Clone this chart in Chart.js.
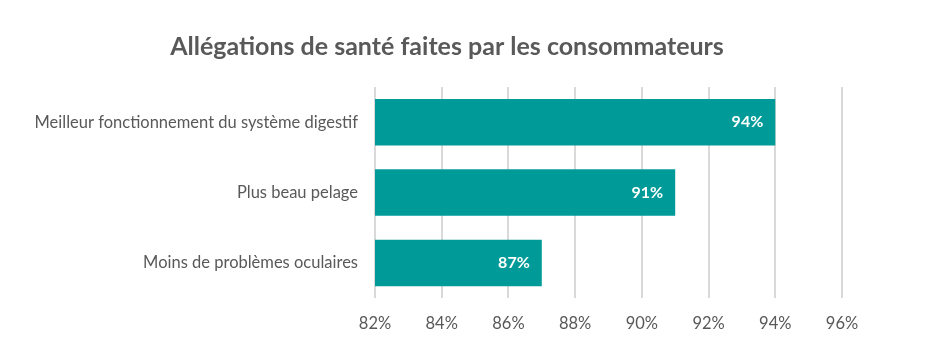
<!DOCTYPE html>
<html>
<head>
<meta charset="utf-8">
<script src="https://cdn.jsdelivr.net/npm/chart.js@4/dist/chart.umd.min.js"></script>
<style>
  body { margin: 0; background: #fff; }
  #wrap { width: 926px; height: 354px; }
</style>
</head>
<body>
<div id="wrap"><canvas id="graph" width="926" height="354"></canvas></div>
<script>
const categories = ['Meilleur fonctionnement du système digestif', 'Plus beau pelage', 'Moins de problèmes oculaires'];
const values = [94, 91, 87];
const tickMin = 82;
const tickMax = 96;
const tickStep = 2;

const FONT = 'Lato, "Open Sans", sans-serif';
const TEXT = '#595959';

// white value labels inside the end of each bar
const barLabels = {
  id: 'barLabels',
  afterDatasetsDraw(chart) {
    const ctx = chart.ctx;
    const meta = chart.getDatasetMeta(0);
    ctx.save();
    ctx.fillStyle = '#ffffff';
    ctx.font = 'bold 16px ' + FONT;
    ctx.textAlign = 'right';
    ctx.textBaseline = 'middle';
    meta.data.forEach((bar, i) => {
      ctx.fillText(values[i] + '%', bar.x - 12, bar.y);
    });
    ctx.restore();
  }
};

new Chart(document.getElementById('graph'), {
  type: 'bar',
  data: {
    labels: categories,
    datasets: [{
      data: values,
      backgroundColor: '#009b98',
      borderWidth: 0,
      barPercentage: 0.66,
      categoryPercentage: 1
    }]
  },
  options: {
    indexAxis: 'y',
    responsive: false,
    animation: false,
    layout: { padding: { left: 0, right: 32, top: 0, bottom: 4 } },
    plugins: {
      legend: { display: false },
      tooltip: { enabled: false },
      title: {
        display: true,
        text: 'Allégations de santé faites par les consommateurs',
        color: TEXT,
        font: { family: FONT, size: 25, weight: 'bold' },
        padding: { top: 32, bottom: 25 }
      }
    },
    scales: {
      x: {
        min: tickMin,
        max: tickMax,
        ticks: {
          stepSize: tickStep,
          color: TEXT,
          font: { family: FONT, size: 16.5 },
          padding: 16,
          callback: v => v + '%'
        },
        grid: { color: '#d9d9d9', lineWidth: 2, drawTicks: false },
        border: { display: false }
      },
      y: {
        ticks: {
          color: TEXT,
          font: { family: FONT, size: 16.5 },
          padding: 17
        },
        grid: { display: false, drawTicks: false },
        border: { display: false },
        afterFit(scale) { scale.width = 375; }
      },
      // empty spacer on the right so the title sits where the original has it
      yRight: {
        type: 'category',
        position: 'right',
        ticks: { display: false },
        grid: { display: false, drawTicks: false },
        border: { display: false },
        afterFit(scale) { scale.width = 52; }
      }
    }
  },
  plugins: [barLabels]
});
</script>
</body>
</html>
